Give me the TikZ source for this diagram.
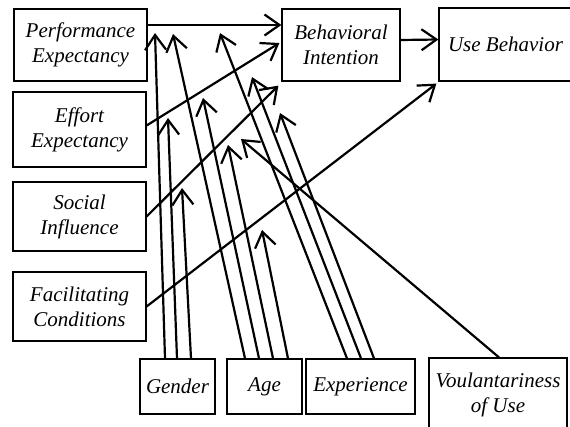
\documentclass[tikz,border=0pt]{standalone}
\usepackage{fontspec}
\setmainfont{Liberation Serif}
\usetikzlibrary{arrows.meta}
\begin{document}
\begin{tikzpicture}[x=1pt,y=-1pt,
  box/.style={draw, line width=1.2pt, inner sep=0pt, align=center,
    font=\fontsize{21}{25}\selectfont\itshape},
  arr/.style={line width=2.2pt, line join=miter,
    -{Straight Barb[length=15pt,width=21pt,line width=2.2pt]}},
]
\useasboundingbox (0,0) rectangle (570,426);
\clip (0,0) rectangle (570,426);

% boxes
\node[box, minimum width=133pt, minimum height=72pt] (pe) at (80.5,45) {Performance\\Expectancy};
\node[box, minimum width=133pt, minimum height=75pt] (ee) at (79.5,129.5) {Effort\\Expectancy};
\node[box, minimum width=133pt, minimum height=69pt] (si) at (79.5,216.5) {Social\\Influence};
\node[box, minimum width=133pt, minimum height=69pt] (fc) at (79.5,306.5) {Facilitating\\Conditions};
\node[box, minimum width=118pt, minimum height=72pt] (bi) at (341,45) {Behavioral\\Intention};
\node[box, minimum width=133pt, minimum height=73pt] (ub) at (505.5,44.5) {Use Behavior};
\node[box, minimum width=75pt, minimum height=55pt] (gen) at (177.5,386.5) {Gender};
\node[box, minimum width=75pt, minimum height=55pt] (age) at (264.5,386.5) {Age};
\node[box, minimum width=109pt, minimum height=55pt] (exp) at (360.5,386.5) {Experience};
\node[box, minimum width=138pt, minimum height=74pt] (vol) at (498,395) {Voulantariness\\of Use};

% main paths
\draw[arr] ([yshift=20pt]pe.east) -- ([yshift=20pt]bi.west);
\draw[arr] ([yshift=4pt]ee.east) -- ([shift={(-2pt,2pt)}]bi.west);
\draw[arr] (si.east) -- ([shift={(-3pt,-4pt)}]bi.south west);
\draw[arr] (fc.east) -- ([shift={(-2pt,-2pt)}]ub.south west);
\draw[arr] ([yshift=5pt]bi.east) -- ([yshift=5pt]ub.west);

% moderator targets
\coordinate (g1) at (155,33);
\coordinate (g2) at (168,118);
\coordinate (g3) at (182,188);
\coordinate (a1) at (173,34);
\coordinate (a2) at (203,98);
\coordinate (a3) at (228,145);
\coordinate (a4) at (262,230);
\coordinate (e1) at (220,33);
\coordinate (e2) at (252,77);
\coordinate (e3) at (280,113);
\coordinate (v1) at (241,139);

% moderators
\draw[arr] ([xshift=-12.5pt]gen.north) -- (g1);
\draw[arr] ([xshift=-0.5pt]gen.north) -- (g2);
\draw[arr] ([xshift=13.5pt]gen.north) -- (g3);
\draw[arr] ([xshift=-19.5pt]age.north) -- (a1);
\draw[arr] ([xshift=-5.5pt]age.north) -- (a2);
\draw[arr] ([xshift=8.5pt]age.north) -- (a3);
\draw[arr] ([xshift=23.5pt]age.north) -- (a4);
\draw[arr] ([xshift=-13.5pt]exp.north) -- (e1);
\draw[arr] ([xshift=0.5pt]exp.north) -- (e2);
\draw[arr] ([xshift=13.5pt]exp.north) -- (e3);
\draw[arr] ([xshift=1pt]vol.north) -- (v1);
\end{tikzpicture}
\end{document}
